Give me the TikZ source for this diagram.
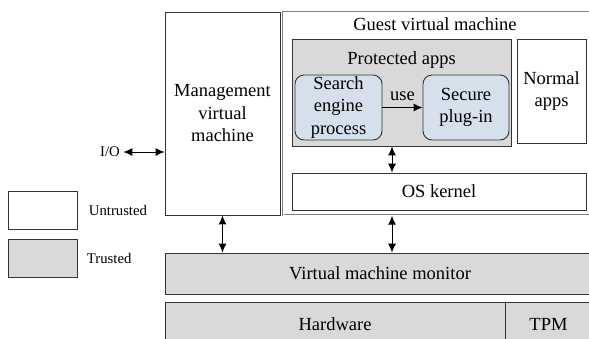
\documentclass[tikz,border=0pt]{standalone}
\usepackage{fontspec}
\setmainfont{Liberation Serif}
\usepackage{tikz}
\usetikzlibrary{arrows.meta}
\usepackage{xcolor}
\definecolor{trustgray}{RGB}{217,217,217}
\definecolor{appblue}{RGB}{214,224,236}
\definecolor{edgegray}{RGB}{51,51,51}

\begin{document}
\begin{tikzpicture}[x=1pt, y=-1pt,
    box/.style={draw=edgegray, line width=0.9pt, rectangle, inner sep=0pt,
      align=center, font=\fontsize{18.5}{22.5}\selectfont},
    trusted/.style={box, fill=trustgray},
    untrusted/.style={box, fill=white},
    appbox/.style={box, fill=appblue, rounded corners=9pt},
    biarrow/.style={{Latex[length=9pt,width=8pt]}-{Latex[length=9pt,width=8pt]}, line width=1pt},
    onearrow/.style={-{Latex[length=9pt,width=8pt]}, line width=1pt},
    small/.style={font=\fontsize{14.7}{17}\selectfont}]
  \useasboundingbox (0,0) rectangle (589,338);
  \clip (0,0) rectangle (589,338);

  % Nodes
  \node[untrusted, minimum width=115, minimum height=203] (mgmt) at (222.5,113.5) {Management\\virtual\\machine};
  \node[box, draw=gray, double=white, double distance=0.8pt, line width=0.7pt,
    minimum width=310, minimum height=203, anchor=north west] (guest) at (283,12) {};
  \node[box, draw=none] (guestlbl) at (435,24) {Guest virtual machine};
  \node[trusted, minimum width=219, minimum height=107] (prot) at (401.5,92.5) {};
  \node[box, draw=none] (protlbl) at (401.5,60) {Protected apps};
  \node[appbox, minimum width=87, minimum height=65] (search) at (338.5,107.5) {Search\\engine\\process};
  \node[appbox, minimum width=86, minimum height=65] (plugin) at (466,107.5) {Secure\\plug-in};
  \node[untrusted, minimum width=69, minimum height=104] (normal) at (551.5,91) {Normal\\apps};
  \node[untrusted, minimum width=294, minimum height=37] (kernel) at (439,191.5) {OS kernel};
  \node[trusted, minimum width=430, minimum height=41] (vmm) at (380,273.5) {Virtual machine monitor};
  \node[trusted, minimum width=340, minimum height=44] (hw) at (335,324) {Hardware};
  \node[trusted, minimum width=87, minimum height=44] (tpm) at (548.5,324) {TPM};
  \node[small] (io) at (110,152) {I/O};

  % Legend
  \node[untrusted, minimum width=69, minimum height=38] (legu) at (42.5,210) {};
  \node[trusted, minimum width=69, minimum height=38] (legt) at (42.5,258) {};
  \node[small, anchor=west] (legulbl) at ([xshift=8pt]legu.east) {Untrusted};
  \node[small, anchor=west] (legtlbl) at ([xshift=6pt]legt.east) {Trusted};

  % Edges
  \draw[onearrow] (search) -- node[above=3pt, font=\fontsize{18.5}{22}\selectfont] {use} (plugin);
  \draw[biarrow] (io.east) -- (io.east -| mgmt.west);
  \draw[biarrow] ([xshift=-9.5pt]prot.south) -- ([xshift=-9.5pt]prot.south |- kernel.north);
  \draw[biarrow] ([xshift=-9.5pt]prot.south |- guest.south) -- ([xshift=-9.5pt]prot.south |- vmm.north);
  \draw[biarrow] (mgmt.south) -- (mgmt.south |- vmm.north);
\end{tikzpicture}
\end{document}
